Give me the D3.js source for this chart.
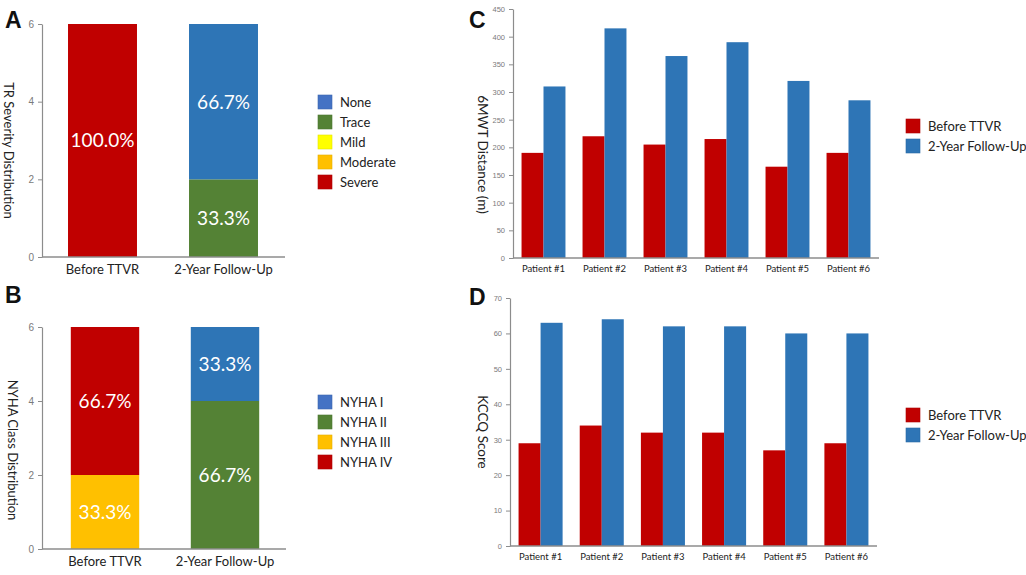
<!DOCTYPE html>
<html><head><meta charset="utf-8">
<script src="https://cdn.jsdelivr.net/npm/d3@7"></script>
<style>
body{margin:0;background:#fff;}
svg{display:block;font-family:Lato,"Open Sans",sans-serif;}
</style></head>
<body>
<svg id="c" width="1026" height="575"></svg>
<script>
// ---------- DATA ----------
const stackCategories = ["Before TTVR", "2-Year Follow-Up"];
// Panel A: TR severity (counts, n=6)
const trLevels = ["Severe", "Moderate", "Mild", "Trace", "None"]; // bottom -> top
const trBefore = [6, 0, 0, 0, 0];
const trFollow = [0, 0, 0, 2, 4];
const trLegend = ["None", "Trace", "Mild", "Moderate", "Severe"];
// Panel B: NYHA class (counts, n=6)
const nyhaLevels = ["NYHA III", "NYHA IV", "NYHA II", "NYHA I"]; // bottom -> top
const nyhaBefore = [2, 4, 0, 0];
const nyhaFollow = [0, 0, 4, 2];
const nyhaLegend = ["NYHA I", "NYHA II", "NYHA III", "NYHA IV"];
const stackTicks = [0, 2, 4, 6];
// Panels C & D
const patients = ["Patient #1", "Patient #2", "Patient #3", "Patient #4", "Patient #5", "Patient #6"];
const series = ["Before TTVR", "2-Year Follow-Up"];
const mwtBefore = [190, 220, 205, 215, 165, 190];
const mwtFollow = [310, 415, 365, 390, 320, 285];
const mwtTicks = [0, 50, 100, 150, 200, 250, 300, 350, 400, 450];
const kccqBefore = [29, 34, 32, 32, 27, 29];
const kccqFollow = [63, 64, 62, 62, 60, 60];
const kccqTicks = [0, 10, 20, 30, 40, 50, 60, 70];

// ---------- STYLE ----------
const colors = {
  "None": "#4472C4", "Trace": "#548235", "Mild": "#FFFF00", "Moderate": "#FFC000", "Severe": "#C00000",
  "NYHA I": "#4472C4", "NYHA II": "#548235", "NYHA III": "#FFC000", "NYHA IV": "#C00000"
};
const segColors = {
  "None": "#2E75B6", "Trace": "#548235", "Mild": "#FFFF00", "Moderate": "#FFC000", "Severe": "#C00000",
  "NYHA I": "#2E75B6", "NYHA II": "#548235", "NYHA III": "#FFC000", "NYHA IV": "#C00000"
};
const seriesColors = ["#C00000", "#2E75B6"];
const axisColor = "#8c8c8c";
const tickTextColor = "#7a7a7a";

const svg = d3.select("#c");

function panelLetter(t, x, y) {
  svg.append("text").attr("x", x).attr("y", y).text(t)
    .attr("font-family", "Liberation Sans, Arial, sans-serif")
    .attr("font-weight", "bold").attr("font-size", 23).attr("fill", "#111");
}

function yAxis(g, y, x0, ticks, fs) {
  const ax = g.append("g").attr("transform", `translate(${x0},0)`)
    .call(d3.axisLeft(y).tickValues(ticks).tickFormat(d3.format("d")).tickSize(4).tickSizeOuter(0).tickPadding(4));
  ax.select(".domain").attr("stroke", axisColor).attr("stroke-width", 1.2);
  ax.selectAll(".tick line").attr("stroke", axisColor);
  ax.selectAll(".tick text").attr("fill", tickTextColor).attr("font-size", fs);
}

function xAxisLine(g, x0, x1, yb) {
  g.append("line").attr("x1", x0).attr("x2", x1).attr("y1", yb).attr("y2", yb)
    .attr("stroke", axisColor).attr("stroke-width", 1.5);
}

function yTitle(g, txt, x, yc, fs) {
  g.append("text").attr("transform", `translate(${x},${yc}) rotate(90)`)
    .attr("text-anchor", "middle").attr("font-size", fs).attr("fill", "#222").text(txt);
}

function legend(g, items, cols, x, y0, step, fs) {
  items.forEach((it, i) => {
    g.append("rect").attr("x", x).attr("y", y0 + i * step - 7).attr("width", 14).attr("height", 14)
      .attr("fill", cols[i]).attr("stroke", d3.color(cols[i]).darker(0.3)).attr("stroke-width", 0.6);
    g.append("text").attr("x", x + 22).attr("y", y0 + i * step).attr("dy", "0.35em")
      .attr("font-size", fs).attr("fill", "#222").text(it);
  });
}

function stackedPanel(opt) {
  const g = svg.append("g");
  const x = d3.scaleBand().domain(stackCategories).range([opt.x0, opt.x1])
    .paddingInner(0.43).paddingOuter(0.215);
  const y = d3.scaleLinear().domain([0, 6]).range([opt.yb, opt.yt]);
  const rows = stackCategories.map((c, i) => {
    const vals = i === 0 ? opt.before : opt.follow;
    const r = { cat: c };
    opt.levels.forEach((l, j) => r[l] = vals[j]);
    return r;
  });
  const stacked = d3.stack().keys(opt.levels)(rows);
  stacked.forEach(layer => {
    layer.forEach(d => {
      if (d[1] - d[0] <= 0) return;
      const cat = d.data.cat;
      g.append("rect").attr("x", x(cat)).attr("width", x.bandwidth())
        .attr("y", y(d[1])).attr("height", y(d[0]) - y(d[1]))
        .attr("fill", segColors[layer.key]);
      const pct = ((d[1] - d[0]) / 6 * 100).toFixed(1) + "%";
      g.append("text").attr("x", x(cat) + x.bandwidth() / 2).attr("y", (y(d[0]) + y(d[1])) / 2)
        .attr("dy", "0.36em").attr("text-anchor", "middle").attr("font-size", 19)
        .attr("fill", "#fff").text(pct);
    });
  });
  yAxis(g, y, opt.axisX, stackTicks, 10);
  xAxisLine(g, opt.axisX, opt.x1 + 1, opt.yb);
  stackCategories.forEach(c => {
    g.append("text").attr("x", x(c) + x.bandwidth() / 2).attr("y", opt.yb + 17)
      .attr("text-anchor", "middle").attr("font-size", 13).attr("fill", "#222").text(c);
  });
  yTitle(g, opt.title, opt.titleX, (opt.yt + opt.yb) / 2 + opt.titleDy, 13);
  legend(g, opt.legend, opt.legend.map(l => colors[l]), 318, opt.legY, 20, 13);
}

function groupedPanel(opt) {
  const g = svg.append("g");
  const x = d3.scaleBand().domain(patients).range([opt.x0, opt.x1])
    .paddingInner(0.28).paddingOuter(0.14);
  const xi = d3.scaleBand().domain(series).range([0, x.bandwidth()]);
  const y = d3.scaleLinear().domain([0, opt.max]).range([opt.yb, opt.yt]);
  const vals = [opt.before, opt.follow];
  patients.forEach((p, i) => {
    series.forEach((s, j) => {
      g.append("rect").attr("x", x(p) + xi(s)).attr("width", xi.bandwidth())
        .attr("y", y(vals[j][i])).attr("height", opt.yb - y(vals[j][i]))
        .attr("fill", seriesColors[j]);
    });
    g.append("text").attr("x", x(p) + x.bandwidth() / 2).attr("y", opt.yb + 14)
      .attr("text-anchor", "middle").attr("font-size", 9.5).attr("fill", "#222").text(p);
  });
  yAxis(g, y, opt.x0, opt.ticks, 7.5);
  xAxisLine(g, opt.x0, opt.x1, opt.yb);
  yTitle(g, opt.title, opt.titleX, (opt.yt + opt.yb) / 2 + opt.titleDy, 13.5);
  legend(g, series, seriesColors, 906, opt.legY, 20, 13);
}

panelLetter("A", 5, 28);
panelLetter("B", 5, 303);
panelLetter("C", 469, 28);
panelLetter("D", 469, 305);

stackedPanel({ x0: 42, x1: 284, axisX: 42, yt: 24, yb: 257, levels: trLevels, before: trBefore, follow: trFollow,
  title: "TR Severity Distribution", titleX: 4, titleDy: 10, legend: trLegend, legY: 102 });
stackedPanel({ x0: 45, x1: 285, axisX: 42, yt: 327, yb: 549, levels: nyhaLevels, before: nyhaBefore, follow: nyhaFollow,
  title: "NYHA Class Distribution", titleX: 8, titleDy: 12, legend: nyhaLegend, legY: 402 });

groupedPanel({ x0: 513, x1: 879, yt: 9, yb: 258, max: 450, ticks: mwtTicks, before: mwtBefore, follow: mwtFollow,
  title: "6MWT Distance (m)", titleX: 478, titleDy: 21, legY: 126 });
groupedPanel({ x0: 510, x1: 877, yt: 298, yb: 546, max: 70, ticks: kccqTicks, before: kccqBefore, follow: kccqFollow,
  title: "KCCQ Score", titleX: 478, titleDy: 10, legY: 415 });
</script>
</body></html>
